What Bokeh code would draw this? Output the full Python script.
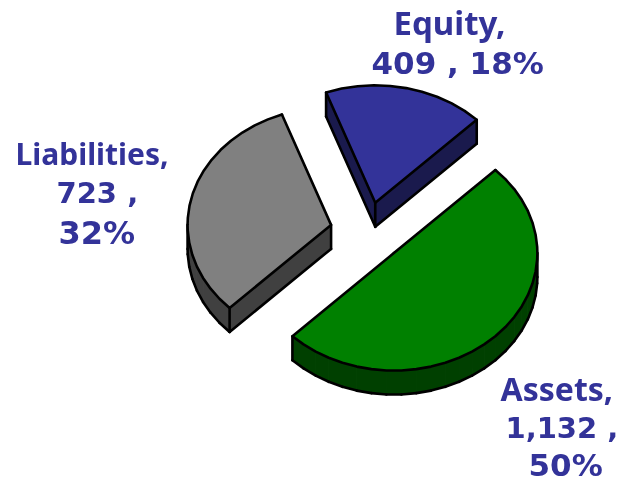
import math
from bokeh.plotting import figure
from bokeh.core.properties import value
from bokeh.embed import file_html
from bokeh.resources import INLINE

categories = ["Assets", "Equity", "Liabilities"]
amounts = [1132, 409, 723]
percents = [50, 18, 32]
explode = [0.26, 0.25, 0.26]
top_colors = ["#008000", "#333399", "#808080"]
side_colors = ["#004000", "#1a1a4d", "#404040"]
label_rgb = "#333399"

CX, CY, A, B, DEPTH = 367.0, 231.0, 143.5, 117.5, 24.0
START = -135.0

p = figure(width=619, height=481, x_range=(0, 619), y_range=(481, 0),
           toolbar_location=None, output_backend="svg", min_border=0,
           outline_line_color=None, tools="")
p.styles = {"position": "fixed", "left": "0px", "top": "0px"}
p.xaxis.visible = False
p.yaxis.visible = False
p.grid.visible = False

SILHOUETTE = (-180.0, 0.0, 180.0, 360.0)
total = sum(amounts)
spans = [v / total * 360 for v in amounts]
angle = START
slices = []
for i, sp in enumerate(spans):
    a0, a1 = angle, angle + sp
    angle = a1
    mid = (a0 + a1) / 2
    ax = CX + explode[i] * A * math.cos(math.radians(mid))
    ay = CY - explode[i] * B * math.sin(math.radians(mid))
    n = max(6, int(sp / 6))
    steps = [a0 + (a1 - a0) * k / n for k in range(n + 1)]
    extra = [t for t in SILHOUETTE if a0 < t < a1]
    steps = sorted(steps + extra)
    pt = lambda t: (ax + A * math.cos(math.radians(t)), ay - B * math.sin(math.radians(t)))
    slices.append((i, [(ax, ay)] + [pt(t) for t in steps], [pt(t) for t in extra]))

LW = 2.6
for i, poly, tangents in sorted(slices, key=lambda s: s[1][0][1]):
    xs = [q[0] for q in poly]
    ys = [q[1] for q in poly]
    m = len(poly)
    qx, qy, lx, ly = [], [], [], []
    for k in range(m):
        x0, y0 = poly[k]
        x1, y1 = poly[(k + 1) % m]
        if x1 > x0:  # edge whose wall faces the viewer
            qx.append([x0, x1, x1, x0])
            qy.append([y0, y1, y1 + DEPTH, y0 + DEPTH])
            lx.append([x0, x1])
            ly.append([y0 + DEPTH, y1 + DEPTH])
    p.patches(qx, qy, fill_color=side_colors[i], line_color=side_colors[i], line_width=1)
    for c in [poly[0], poly[1], poly[-1]] + tangents:
        lx.append([c[0], c[0]])
        ly.append([c[1], c[1] + DEPTH])
    p.multi_line(lx, ly, line_color="black", line_width=LW, line_cap="round")
    p.patch(xs, ys, fill_color=top_colors[i], line_color="black", line_width=LW, line_join="round")

label_lines = [
    (f"{categories[0]},", 500, 388, "Noto Sans", "32px"),
    (f"{amounts[0]:,} ,", 505, 427, "DejaVu Sans", "29px"),
    (f"{percents[0]}%", 528, 464, "DejaVu Sans", "31px"),
    (f"{categories[1]},", 393, 22, "Noto Sans", "33px"),
    (f"{amounts[1]:,} , {percents[1]}%", 371, 62, "DejaVu Sans", "31px"),
    (f"{categories[2]},", 15, 153, "Noto Sans", "30px"),
    (f"{amounts[2]:,} ,", 56, 192, "DejaVu Sans", "29px"),
    (f"{percents[2]}%", 58, 232, "DejaVu Sans", "32px"),
]
for txt, x, y, font, size in label_lines:
    p.text([x], [y], text=[txt], text_color=label_rgb, text_font=value(font),
           text_font_style="bold", text_font_size=size, text_align="left",
           text_baseline="alphabetic")

open("out.html", "w").write(file_html(p, INLINE))
